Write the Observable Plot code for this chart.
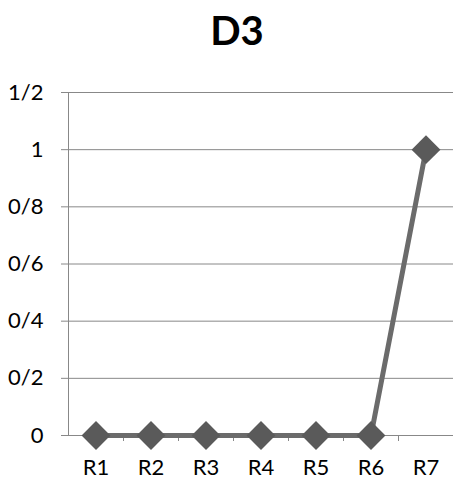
<!DOCTYPE html>
<html>
<head>
<meta charset="utf-8">
<script src="https://cdn.jsdelivr.net/npm/d3@7"></script>
<script src="https://cdn.jsdelivr.net/npm/@observablehq/plot@0.6"></script>
<style>
  html, body { margin: 0; padding: 0; background: #fff; }
  #title { height: 70px; width: 454px; font-family: Lato, "Open Sans", sans-serif; font-weight: bold; font-size: 40px; line-height: 60px; text-align: center; padding-left: 20px; box-sizing: border-box; color: #000; }
  svg { display: block; }
</style>
</head>
<body>
<div id="title">D3</div>
<div id="chart"></div>
<script>
const categories = ["R1", "R2", "R3", "R4", "R5", "R6", "R7"];
const values = [0, 0, 0, 0, 0, 0, 1];
const yTicks = [0, 0.2, 0.4, 0.6, 0.8, 1, 1.2];
const yTickLabels = ["0", "0/2", "0/4", "0/6", "0/8", "1", "1/2"];

const data = categories.map((c, i) => ({cat: c, idx: i + 1, value: values[i]}));
const boundaries = d3.range(1.5, categories.length, 1);

const chart = Plot.plot({
  width: 454,
  height: 409,
  marginTop: 22,
  marginBottom: 44,
  marginLeft: 68,
  marginRight: 1,
  style: {fontFamily: "Lato, 'Open Sans', sans-serif", fontSize: "22px", color: "#000", background: "#fff"},
  x: {type: "linear", domain: [0.5, categories.length + 0.5]},
  y: {type: "linear", domain: [0, 1.2]},
  marks: [
    Plot.ruleY(yTicks, {stroke: "#888", strokeOpacity: 1, insetLeft: -7}),
    Plot.ruleX([0.5], {stroke: "#888"}),
    Plot.axisX({ticks: boundaries, tickFormat: () => "", tickSize: 6, stroke: "#888", strokeOpacity: 1, label: null}),
    Plot.axisY({ticks: yTicks, tickFormat: d => yTickLabels[yTicks.indexOf(d)], tickSize: 0, tickPadding: 25, label: null, fill: "#000", fontSize: 22}),
    Plot.axisX({ticks: data.map(d => d.idx), tickFormat: d => categories[d - 1], tickSize: 0, tickPadding: 24, label: null, fill: "#000", fontSize: 22}),
    Plot.line(data, {x: "idx", y: "value", stroke: "#6b6b6b", strokeWidth: 5}),
    Plot.dot(data, {x: "idx", y: "value", symbol: "diamond2", r: 13, fill: "#5a5a5a", stroke: "none"})
  ]
});
document.getElementById("chart").appendChild(chart);
</script>
</body>
</html>
